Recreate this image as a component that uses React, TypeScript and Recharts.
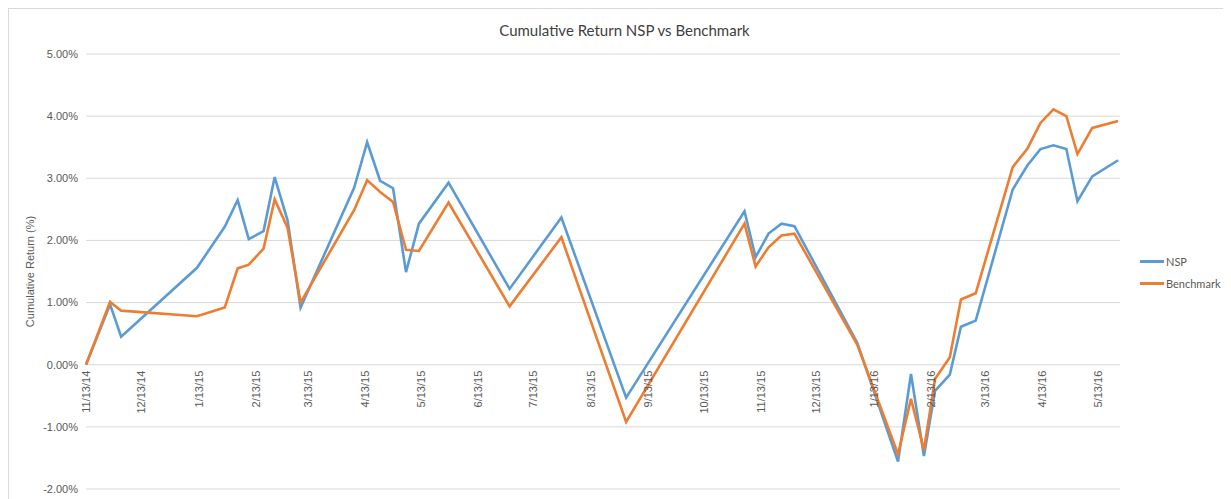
import React from 'react';
import { LineChart, Line, XAxis, YAxis, CartesianGrid, Legend, Label } from 'recharts';

// observation dates (m/d/yy)
const dates = [
  '11/13/14', '11/26/14', '12/2/14', '1/12/15', '1/27/15', '2/3/15', '2/9/15', '2/17/15',
  '2/23/15', '3/2/15', '3/9/15', '4/7/15', '4/14/15', '4/21/15', '4/28/15', '5/5/15',
  '5/12/15', '5/28/15', '6/30/15', '7/28/15', '9/1/15', '11/4/15', '11/10/15', '11/17/15',
  '11/24/15', '12/1/15', '1/4/16', '1/26/16', '2/2/16', '2/9/16', '2/15/16', '2/23/16',
  '2/29/16', '3/8/16', '3/28/16', '4/5/16', '4/12/16', '4/19/16', '4/26/16', '5/2/16',
  '5/10/16', '5/24/16',
];

// cumulative return, %
const nsp = [
  0, 0.97, 0.45, 1.56, 2.22, 2.65, 2.02, 2.15,
  3.02, 2.32, 0.92, 2.85, 3.58, 2.96, 2.84, 1.49,
  2.27, 2.93, 1.22, 2.37, -0.53, 2.47, 1.73, 2.11,
  2.27, 2.23, 0.35, -1.56, -0.15, -1.47, -0.42, -0.16,
  0.61, 0.71, 2.82, 3.21, 3.47, 3.53, 3.47, 2.63,
  3.03, 3.29,
];

const benchmark = [
  0, 1.01, 0.87, 0.78, 0.92, 1.55, 1.61, 1.87,
  2.66, 2.2, 1.0, 2.49, 2.97, 2.78, 2.62, 1.85,
  1.83, 2.61, 0.94, 2.05, -0.92, 2.27, 1.58, 1.89,
  2.08, 2.11, 0.32, -1.44, -0.55, -1.37, -0.23, 0.12,
  1.05, 1.15, 3.18, 3.48, 3.89, 4.11, 4.0, 3.39,
  3.81, 3.92,
];

const xTickLabels = [
  '11/13/14', '12/13/14', '1/13/15', '2/13/15', '3/13/15', '4/13/15', '5/13/15',
  '6/13/15', '7/13/15', '8/13/15', '9/13/15', '10/13/15', '11/13/15', '12/13/15',
  '1/13/16', '2/13/16', '3/13/16', '4/13/16', '5/13/16',
];

const yTicks = [-2, -1, 0, 1, 2, 3, 4, 5];
const axisEnd = '5/25/16';

const toTime = (s: string) => {
  const [m, d, y] = s.split('/').map(Number);
  return Date.UTC(2000 + y, m - 1, d);
};

const chartData = dates.map((d, i) => ({
  t: toTime(d),
  nsp: nsp[i],
  benchmark: benchmark[i],
}));

const xTicks = xTickLabels.map(toTime);
const labelFor = (v: number) => {
  const i = xTicks.indexOf(v);
  return i >= 0 ? xTickLabels[i] : '';
};

const W = 1221;
const H = 498;
const TOP = 45;
const BOTTOM = 17;
const X_AXIS_H = 1;
const PLOT_H = H - TOP - BOTTOM - X_AXIS_H;
const zeroY = TOP + (PLOT_H * 5) / 7;

const BLUE = '#5B9BD5';
const ORANGE = '#ED7D31';
const TEXT = '#595959';
const FONT = "'Liberation Sans', Arial, sans-serif";

const renderDateTick = (props: any) => {
  const { x, payload } = props;
  const y = zeroY + 6;
  return (
    <text
      key={payload.value}
      x={x}
      y={y}
      dy="0.35em"
      textAnchor="end"
      fontSize={11}
      fill={TEXT}
      fontFamily={FONT}
      transform={`rotate(-90, ${x}, ${y})`}
    >
      {labelFor(payload.value)}
    </text>
  );
};

const LegendBox = () => (
  <div style={{ width: 84, paddingLeft: 20, fontFamily: 'Lato, sans-serif', fontSize: 11, color: TEXT }}>
    {[
      { name: 'NSP', color: BLUE },
      { name: 'Benchmark', color: ORANGE },
    ].map((it) => (
      <div key={it.name} style={{ display: 'flex', alignItems: 'center', height: 22 }}>
        <span style={{ display: 'inline-block', width: 24, height: 3, background: it.color, marginRight: 2 }} />
        <span>{it.name}</span>
      </div>
    ))}
  </div>
);

export default function App() {
  return (
    <div style={{ position: 'relative', width: W, height: H, border: '1px solid #d9d9d9', background: '#fff' }}>
      <div
        style={{
          position: 'absolute',
          top: 12,
          left: 0,
          width: '100%',
          textAlign: 'center',
          fontFamily: 'Lato, sans-serif',
          fontSize: 15,
          color: '#404040',
          paddingLeft: 10,
          boxSizing: 'border-box',
        }}
      >
        Cumulative Return NSP vs Benchmark
      </div>
      <LineChart width={W} height={H} data={chartData} margin={{ top: TOP, right: 6, bottom: BOTTOM, left: 0 }}>
        <CartesianGrid vertical={false} stroke="#d9d9d9" />
        <XAxis
          dataKey="t"
          type="number"
          domain={[toTime(dates[0]), toTime(axisEnd)]}
          ticks={xTicks}
          interval={0}
          height={X_AXIS_H}
          axisLine={false}
          tickLine={false}
          tick={renderDateTick}
        />
        <YAxis
          width={77}
          domain={[-2, 5]}
          ticks={yTicks}
          axisLine={false}
          tickLine={false}
          tickFormatter={(v: number) => `${v.toFixed(2)}%`}
          tick={{ fontSize: 11, fill: TEXT, fontFamily: FONT }}
        >
          <Label
            content={(p: any) => {
              const vb = p.viewBox || {};
              const cx = 21;
              const cy = (vb.y || TOP) + (vb.height || PLOT_H) / 2;
              return (
                <text
                  x={cx}
                  y={cy}
                  textAnchor="middle"
                  dominantBaseline="central"
                  fontSize={11}
                  fill={TEXT}
                  fontFamily={FONT}
                  transform={`rotate(-90, ${cx}, ${cy})`}
                >
                  Cumulative Return (%)
                </text>
              );
            }}
          />
        </YAxis>
        <Legend
          layout="vertical"
          align="right"
          verticalAlign="middle"
          content={<LegendBox />}
          wrapperStyle={{ top: 241 }}
        />
        <Line
          type="linear"
          dataKey="nsp"
          name="NSP"
          stroke={BLUE}
          strokeWidth={2.6}
          dot={false}
          isAnimationActive={false}
        />
        <Line
          type="linear"
          dataKey="benchmark"
          name="Benchmark"
          stroke={ORANGE}
          strokeWidth={2.6}
          dot={false}
          isAnimationActive={false}
        />
      </LineChart>
    </div>
  );
}
